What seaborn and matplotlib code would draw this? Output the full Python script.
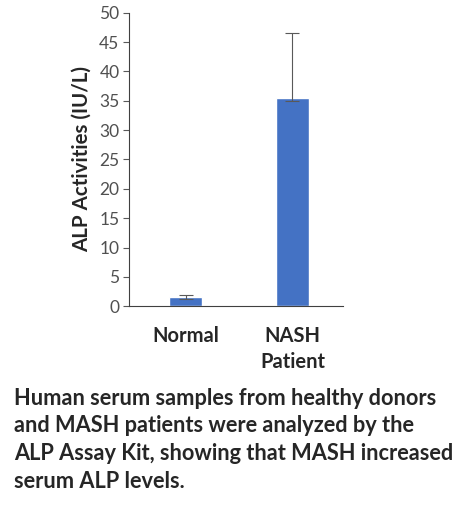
import matplotlib
matplotlib.use('Agg')
import matplotlib.pyplot as plt
import seaborn as sns
import pandas as pd
import numpy as np

# Datos
groups = ['Normal', 'NASH\nPatient']
alp_mean = [1.6, 35.5]
err_low = [0.4, 0.6]
err_high = [0.3, 11.0]
yticks = list(range(0, 51, 5))

caption = ('Human serum samples from healthy donors\n'
           'and MASH patients were analyzed by the\n'
           'ALP Assay Kit, showing that MASH increased\n'
           'serum ALP levels.')

sns.set_style('white')
plt.rcParams['font.family'] = ['Lato', 'DejaVu Sans']

df = pd.DataFrame({'Group': groups, 'ALP': alp_mean})

fig = plt.figure(figsize=(4.73, 5.12), dpi=100)
ax = fig.add_axes([0.273, 0.402, 0.452, 0.573])

sns.barplot(data=df, x='Group', y='ALP', color='#4472C4', width=0.31,
            saturation=1, ax=ax)
ax.errorbar(np.arange(len(groups)), alp_mean, yerr=[err_low, err_high],
            fmt='none', ecolor='#595959', elinewidth=0.8, capsize=5, capthick=0.8)

ax.set_xlim(-0.528, 1.472)
ax.set_ylim(0, 50)
ax.set_yticks(yticks)
ax.tick_params(axis='y', labelsize=12.5, colors='#595959', labelcolor='#505050',
               length=4, width=0.8, left=True, pad=3)
ax.tick_params(axis='x', length=0, labelsize=14.5, pad=14)
for lbl in ax.get_xticklabels():
    lbl.set_fontweight('bold')
    lbl.set_linespacing(1.4)
ax.set_xlabel('')
ax.set_ylabel('ALP Activities (IU/L)', fontsize=14.8, fontweight='bold', labelpad=5)
sns.despine(ax=ax)
ax.spines['left'].set_color('#404040')
ax.spines['bottom'].set_color('#404040')

fig.text(0.03, 0.243, caption, fontsize=15.7, fontweight='bold', va='top',
         ha='left', linespacing=1.4)

fig.savefig('out.png', dpi=100)
